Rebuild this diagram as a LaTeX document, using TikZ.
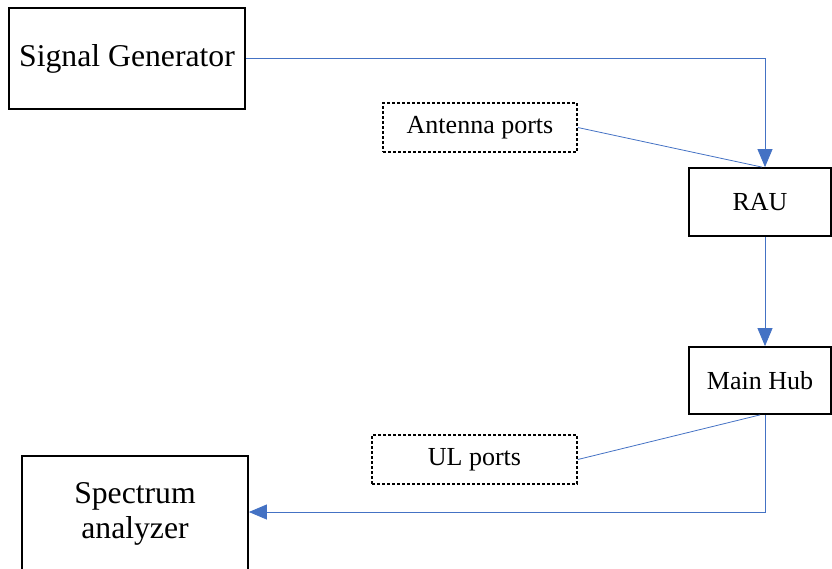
\documentclass[tikz,border=0pt]{standalone}
\usepackage{fontspec}
\setmainfont{Liberation Serif}
\usetikzlibrary{arrows.meta}
\definecolor{linkblue}{HTML}{4472C4}
\tikzset{
  bigbox/.style={draw=black, line width=1.8pt, fill=white, inner sep=0pt, align=center, font=\fontsize{31.7}{35}\selectfont},
  smallbox/.style={draw=black, line width=1.8pt, fill=white, inner sep=0pt, align=center, font=\fontsize{26}{30}\selectfont},
  dashbox/.style={draw=black, line width=1.6pt, dash pattern=on 3pt off 2pt, fill=white, inner sep=0pt, align=center, font=\fontsize{26}{30}\selectfont},
  conn/.style={draw=linkblue, line width=0.8pt},
  arr/.style={conn, -{Triangle[length=18pt,width=15pt]}}
}
\begin{document}
\begin{tikzpicture}[x=1pt,y=-1pt]
\useasboundingbox (0,0) rectangle (832,568);
\node[bigbox, minimum width=236pt, minimum height=101pt] (sg) at (127,58.5) {\raisebox{-2pt}{Signal Generator}};
\node[dashbox, minimum width=194pt, minimum height=49pt] (ant) at (480,127.5) {\raisebox{-2pt}{Antenna ports}};
\node[smallbox, minimum width=142pt, minimum height=68pt] (rau) at (760,202) {RAU};
\node[smallbox, minimum width=142pt, minimum height=67pt] (hub) at (760,380.5) {Main Hub};
\node[dashbox, minimum width=205pt, minimum height=49pt] (ul) at (474.5,459.5) {\raisebox{-2pt}{UL ports}};
\node[bigbox, minimum width=226pt, minimum height=116pt] (sa) at (135,514) {Spectrum\\analyzer};
\draw[arr] (sg.east) -| ([xshift=5pt]rau.north);
\draw[conn] (ant.east) -- ([xshift=2pt]rau.north);
\draw[arr] ([xshift=5pt]rau.south) -- ([xshift=5pt]hub.north);
\draw[arr] ([xshift=5pt]hub.south) |- ([yshift=2pt]sa.east);
\draw[conn] (ul.east) -- (hub.south);
\end{tikzpicture}
\end{document}
